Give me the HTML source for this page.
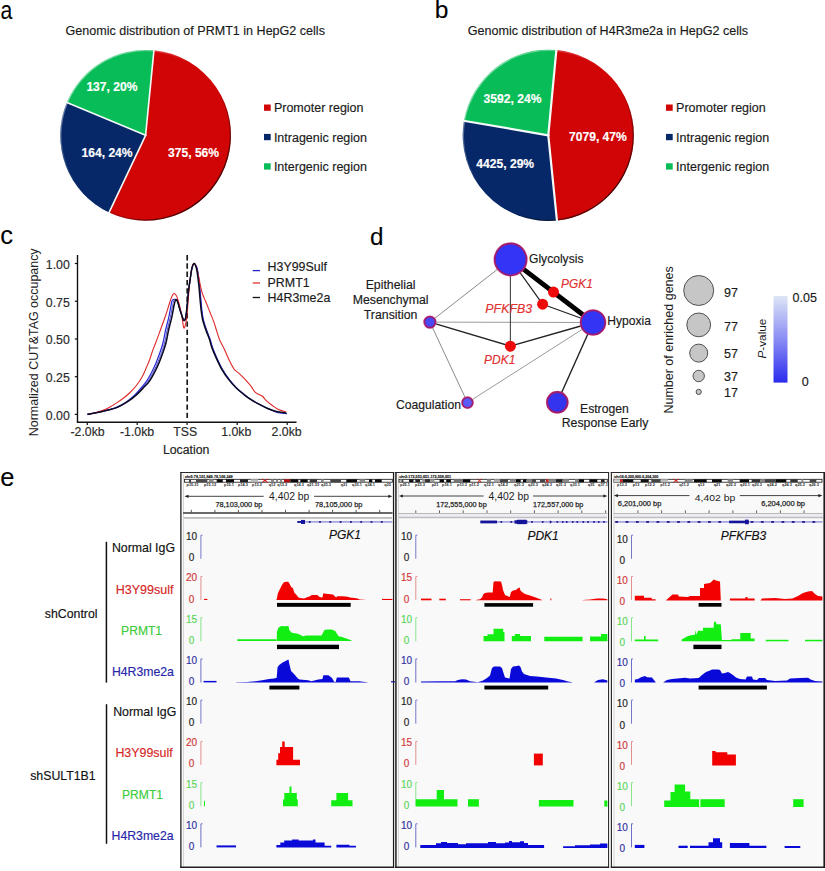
<!DOCTYPE html>
<html><head><meta charset="utf-8"><style>
html,body{margin:0;padding:0;background:#fff;width:825px;height:871px;overflow:hidden;}
svg{display:block;}
</style></head><body>
<svg width="825" height="871" viewBox="0 0 825 871" font-family='"Liberation Sans", sans-serif'>
<rect width="825" height="871" fill="#fff"/>
<text x="0" y="0" font-size="25" fill="#000" transform="translate(0.4,18.5) scale(0.85,1)">a</text>
<text x="434.70" y="18.10" font-size="24.6" fill="#000" text-anchor="start" font-weight="normal" font-style="normal" stroke="#000" stroke-width="0.1" >b</text>
<text x="0.30" y="244.20" font-size="25.5" fill="#000" text-anchor="start" font-weight="normal" font-style="normal" stroke="#000" stroke-width="0.1" >c</text>
<text x="369.90" y="244.50" font-size="24.2" fill="#000" text-anchor="start" font-weight="normal" font-style="normal" stroke="#000" stroke-width="0.1" >d</text>
<text x="0.20" y="486.30" font-size="25.5" fill="#000" text-anchor="start" font-weight="normal" font-style="normal" stroke="#000" stroke-width="0.1" >e</text>
<text x="65.50" y="35.00" font-size="12.55" fill="#1a1a1a" text-anchor="start" font-weight="normal" font-style="normal" stroke="#1a1a1a" stroke-width="0.16" >Genomic distribution of PRMT1 in HepG2 cells</text>
<text x="467.80" y="35.00" font-size="12.55" fill="#1a1a1a" text-anchor="start" font-weight="normal" font-style="normal" stroke="#1a1a1a" stroke-width="0.16" >Genomic distribution of H4R3me2a in HepG2 cells</text>
<defs><linearGradient id="rima" x1="81.54999999999998" y1="71.25" x2="209.65" y2="199.35000000000002" gradientUnits="userSpaceOnUse"><stop offset="0" stop-color="#fff" stop-opacity="0.55"/><stop offset="0.4" stop-color="#fff" stop-opacity="0"/><stop offset="0.6" stop-color="#000" stop-opacity="0"/><stop offset="1" stop-color="#000" stop-opacity="0.75"/></linearGradient></defs>
<path d="M145.6,135.3 L153.93,50.31 A85.4,85.4 0 1 1 109.10,212.51 Z" fill="#d10406"/>
<path d="M145.6,135.3 L109.10,212.51 A85.4,85.4 0 0 1 66.78,102.42 Z" fill="#062868"/>
<path d="M145.6,135.3 L66.78,102.42 A85.4,85.4 0 0 1 153.93,50.31 Z" fill="#08bc58"/>
<circle cx="145.6" cy="135.3" r="84.80000000000001" fill="none" stroke="url(#rima)" stroke-width="1.3"/>
<line x1="145.6" y1="135.3" x2="153.98" y2="49.81" stroke="#f2fbf8" stroke-width="1.6" stroke-linecap="round"/>
<line x1="145.6" y1="135.3" x2="108.88" y2="212.96" stroke="#f2fbf8" stroke-width="1.6" stroke-linecap="round"/>
<line x1="145.6" y1="135.3" x2="66.32" y2="102.23" stroke="#f2fbf8" stroke-width="1.6" stroke-linecap="round"/>
<text x="168.00" y="156.80" font-size="12.1" fill="#fff" text-anchor="start" font-weight="bold" font-style="normal" stroke="#fff" stroke-width="0.16" >375, 56%</text>
<text x="81.50" y="156.80" font-size="12.1" fill="#fff" text-anchor="start" font-weight="bold" font-style="normal" stroke="#fff" stroke-width="0.16" >164, 24%</text>
<text x="86.40" y="91.40" font-size="12.1" fill="#fff" text-anchor="start" font-weight="bold" font-style="normal" stroke="#fff" stroke-width="0.16" >137, 20%</text>
<defs><linearGradient id="rimb" x1="484.09999999999997" y1="71.10000000000002" x2="612.5" y2="199.5" gradientUnits="userSpaceOnUse"><stop offset="0" stop-color="#fff" stop-opacity="0.55"/><stop offset="0.4" stop-color="#fff" stop-opacity="0"/><stop offset="0.6" stop-color="#000" stop-opacity="0"/><stop offset="1" stop-color="#000" stop-opacity="0.75"/></linearGradient></defs>
<path d="M548.3,135.3 L556.36,50.08 A85.6,85.6 0 0 1 556.93,220.46 Z" fill="#d10406"/>
<path d="M548.3,135.3 L556.93,220.46 A85.6,85.6 0 0 1 463.93,120.82 Z" fill="#062868"/>
<path d="M548.3,135.3 L463.93,120.82 A85.6,85.6 0 0 1 556.36,50.08 Z" fill="#08bc58"/>
<circle cx="548.3" cy="135.3" r="85.0" fill="none" stroke="url(#rimb)" stroke-width="1.3"/>
<line x1="548.3" y1="135.3" x2="556.40" y2="49.58" stroke="#f2fbf8" stroke-width="2.2" stroke-linecap="round"/>
<line x1="548.3" y1="135.3" x2="556.98" y2="220.96" stroke="#f2fbf8" stroke-width="2.2" stroke-linecap="round"/>
<line x1="548.3" y1="135.3" x2="463.44" y2="120.73" stroke="#f2fbf8" stroke-width="2.2" stroke-linecap="round"/>
<text x="569.00" y="140.60" font-size="12.1" fill="#fff" text-anchor="start" font-weight="bold" font-style="normal" stroke="#fff" stroke-width="0.16" >7079, 47%</text>
<text x="476.30" y="168.00" font-size="12.1" fill="#fff" text-anchor="start" font-weight="bold" font-style="normal" stroke="#fff" stroke-width="0.16" >4425, 29%</text>
<text x="483.60" y="103.00" font-size="12.1" fill="#fff" text-anchor="start" font-weight="bold" font-style="normal" stroke="#fff" stroke-width="0.16" >3592, 24%</text>
<rect x="264" y="104.5" width="6.7" height="6.3" fill="#d10406"/>
<text x="273.90" y="112.20" font-size="12.5" fill="#1a1a1a" text-anchor="start" font-weight="normal" font-style="normal" stroke="#1a1a1a" stroke-width="0.16" >Promoter region</text>
<rect x="264" y="133.9" width="6.7" height="6.3" fill="#062868"/>
<text x="273.90" y="141.60" font-size="12.5" fill="#1a1a1a" text-anchor="start" font-weight="normal" font-style="normal" stroke="#1a1a1a" stroke-width="0.16" >Intragenic region</text>
<rect x="264" y="163.3" width="6.7" height="6.3" fill="#08bc58"/>
<text x="273.90" y="171.00" font-size="12.5" fill="#1a1a1a" text-anchor="start" font-weight="normal" font-style="normal" stroke="#1a1a1a" stroke-width="0.16" >Intergenic region</text>
<rect x="666" y="104.5" width="6.7" height="6.3" fill="#d10406"/>
<text x="676.10" y="112.20" font-size="12.5" fill="#1a1a1a" text-anchor="start" font-weight="normal" font-style="normal" stroke="#1a1a1a" stroke-width="0.16" >Promoter region</text>
<rect x="666" y="133.9" width="6.7" height="6.3" fill="#062868"/>
<text x="676.10" y="141.60" font-size="12.5" fill="#1a1a1a" text-anchor="start" font-weight="normal" font-style="normal" stroke="#1a1a1a" stroke-width="0.16" >Intragenic region</text>
<rect x="666" y="163.3" width="6.7" height="6.3" fill="#08bc58"/>
<text x="676.10" y="171.00" font-size="12.5" fill="#1a1a1a" text-anchor="start" font-weight="normal" font-style="normal" stroke="#1a1a1a" stroke-width="0.16" >Intergenic region</text>
<line x1="77.5" y1="255" x2="77.5" y2="422.8" stroke="#111" stroke-width="1.4"/>
<line x1="76.9" y1="422.2" x2="296.5" y2="422.2" stroke="#111" stroke-width="1.4"/>
<line x1="74.8" y1="263.5" x2="77.5" y2="263.5" stroke="#111" stroke-width="1.2"/>
<text x="69.80" y="268.90" font-size="12.3" fill="#2a2a2a" text-anchor="end" font-weight="normal" font-style="normal" stroke="#2a2a2a" stroke-width="0.16" >1.00</text>
<line x1="74.8" y1="301.2" x2="77.5" y2="301.2" stroke="#111" stroke-width="1.2"/>
<text x="69.80" y="306.60" font-size="12.3" fill="#2a2a2a" text-anchor="end" font-weight="normal" font-style="normal" stroke="#2a2a2a" stroke-width="0.16" >0.75</text>
<line x1="74.8" y1="339" x2="77.5" y2="339" stroke="#111" stroke-width="1.2"/>
<text x="69.80" y="344.40" font-size="12.3" fill="#2a2a2a" text-anchor="end" font-weight="normal" font-style="normal" stroke="#2a2a2a" stroke-width="0.16" >0.50</text>
<line x1="74.8" y1="376.7" x2="77.5" y2="376.7" stroke="#111" stroke-width="1.2"/>
<text x="69.80" y="382.10" font-size="12.3" fill="#2a2a2a" text-anchor="end" font-weight="normal" font-style="normal" stroke="#2a2a2a" stroke-width="0.16" >0.25</text>
<line x1="74.8" y1="414.4" x2="77.5" y2="414.4" stroke="#111" stroke-width="1.2"/>
<text x="69.80" y="419.80" font-size="12.3" fill="#2a2a2a" text-anchor="end" font-weight="normal" font-style="normal" stroke="#2a2a2a" stroke-width="0.16" >0.00</text>
<line x1="87.3" y1="422.2" x2="87.3" y2="424.9" stroke="#111" stroke-width="1.2"/>
<text x="87.60" y="436.10" font-size="12.3" fill="#2a2a2a" text-anchor="middle" font-weight="normal" font-style="normal" stroke="#2a2a2a" stroke-width="0.16" >-2.0kb</text>
<line x1="137.2" y1="422.2" x2="137.2" y2="424.9" stroke="#111" stroke-width="1.2"/>
<text x="137.10" y="436.10" font-size="12.3" fill="#2a2a2a" text-anchor="middle" font-weight="normal" font-style="normal" stroke="#2a2a2a" stroke-width="0.16" >-1.0kb</text>
<line x1="187.1" y1="422.2" x2="187.1" y2="424.9" stroke="#111" stroke-width="1.2"/>
<text x="185.20" y="436.10" font-size="12.3" fill="#2a2a2a" text-anchor="middle" font-weight="normal" font-style="normal" stroke="#2a2a2a" stroke-width="0.16" >TSS</text>
<line x1="237.2" y1="422.2" x2="237.2" y2="424.9" stroke="#111" stroke-width="1.2"/>
<text x="236.20" y="436.10" font-size="12.3" fill="#2a2a2a" text-anchor="middle" font-weight="normal" font-style="normal" stroke="#2a2a2a" stroke-width="0.16" >1.0kb</text>
<line x1="287.2" y1="422.2" x2="287.2" y2="424.9" stroke="#111" stroke-width="1.2"/>
<text x="286.60" y="436.10" font-size="12.3" fill="#2a2a2a" text-anchor="middle" font-weight="normal" font-style="normal" stroke="#2a2a2a" stroke-width="0.16" >2.0kb</text>
<text x="186.20" y="454.00" font-size="12.3" fill="#222" text-anchor="middle" font-weight="normal" font-style="normal" stroke="#222" stroke-width="0.16" >Location</text>
<text x="0" y="0" font-size="12.45" fill="#222" text-anchor="middle" transform="translate(38.2,342.3) rotate(-90)">Normalized CUT&amp;TAG occupancy</text>
<line x1="187.2" y1="255" x2="187.2" y2="421" stroke="#1a1a1a" stroke-width="1.7" stroke-dasharray="5.4,2.9"/>
<path d="M87.00,414.40 C89.07,414.00 96.12,412.70 99.40,412.00 C102.68,411.30 104.28,410.80 106.70,410.20 C109.12,409.60 111.48,409.25 113.90,408.40 C116.32,407.55 118.84,406.38 121.20,405.10 C123.56,403.82 125.82,402.40 128.09,400.70 C130.36,399.00 132.62,397.08 134.83,394.90 C137.04,392.72 139.37,389.90 141.33,387.60 C143.29,385.30 144.78,383.88 146.61,381.10 C148.43,378.32 150.63,374.17 152.30,370.90 C153.97,367.63 155.18,364.98 156.60,361.50 C158.02,358.02 159.70,353.25 160.80,350.00 C161.90,346.75 162.40,345.33 163.20,342.00 C164.00,338.67 164.68,334.07 165.60,330.00 C166.52,325.93 167.80,321.68 168.70,317.60 C169.60,313.52 170.38,308.40 171.00,305.50 C171.62,302.60 171.47,301.15 172.40,300.20 C173.33,299.25 175.63,299.25 176.60,299.80 C177.57,300.35 177.70,302.05 178.20,303.50 C178.70,304.95 179.00,306.53 179.60,308.50 C180.20,310.47 181.10,313.32 181.80,315.30 C182.50,317.28 183.20,319.85 183.80,320.40 C184.40,320.95 184.93,320.17 185.40,318.60 C185.87,317.03 186.23,313.93 186.60,311.00 C186.97,308.07 187.27,304.50 187.60,301.00 C187.93,297.50 188.17,293.67 188.60,290.00 C189.03,286.33 189.65,282.60 190.20,279.00 C190.75,275.40 191.25,270.97 191.90,268.40 C192.55,265.83 193.25,263.70 194.10,263.60 C194.95,263.50 196.32,266.08 197.00,267.80 C197.68,269.52 197.75,270.82 198.20,273.90 C198.65,276.98 199.27,282.17 199.70,286.30 C200.13,290.43 200.43,294.70 200.80,298.70 C201.17,302.70 201.48,306.87 201.90,310.30 C202.32,313.73 202.73,316.63 203.30,319.30 C203.87,321.97 204.55,323.97 205.30,326.30 C206.05,328.63 206.97,331.05 207.80,333.30 C208.63,335.55 209.47,337.30 210.30,339.80 C211.13,342.30 211.65,345.15 212.80,348.30 C213.95,351.45 215.57,355.15 217.20,358.70 C218.83,362.25 220.60,366.15 222.60,369.60 C224.60,373.05 226.83,376.32 229.20,379.40 C231.57,382.48 234.27,385.57 236.80,388.10 C239.33,390.63 242.03,392.70 244.40,394.60 C246.77,396.50 248.45,397.85 251.00,399.50 C253.55,401.15 256.80,402.95 259.70,404.50 C262.60,406.05 265.50,407.50 268.40,408.80 C271.30,410.10 274.00,411.48 277.10,412.30 C280.20,413.12 285.35,413.47 287.00,413.70" fill="none" stroke="#2828d8" stroke-width="1.2"/>
<path d="M87.40,414.40 C89.47,414.00 96.52,412.70 99.80,412.00 C103.08,411.30 104.68,410.80 107.10,410.20 C109.52,409.60 111.88,409.25 114.30,408.40 C116.72,407.55 119.20,406.38 121.60,405.10 C124.00,403.82 126.34,402.40 128.69,400.70 C131.05,399.00 133.40,397.08 135.72,394.90 C138.03,392.72 140.49,389.90 142.56,387.60 C144.64,385.30 146.26,383.88 148.15,381.10 C150.04,378.32 152.23,374.17 153.90,370.90 C155.57,367.63 156.78,364.98 158.20,361.50 C159.62,358.02 161.30,353.25 162.40,350.00 C163.50,346.75 164.00,345.33 164.80,342.00 C165.60,338.67 166.28,334.07 167.20,330.00 C168.12,325.93 169.40,321.68 170.30,317.60 C171.20,313.52 171.98,308.40 172.60,305.50 C173.22,302.60 173.32,301.15 174.00,300.20 C174.68,299.25 175.98,299.25 176.70,299.80 C177.42,300.35 177.80,302.05 178.30,303.50 C178.80,304.95 179.10,306.53 179.70,308.50 C180.30,310.47 181.20,313.32 181.90,315.30 C182.60,317.28 183.30,319.85 183.90,320.40 C184.50,320.95 185.03,320.17 185.50,318.60 C185.97,317.03 186.33,313.93 186.70,311.00 C187.07,308.07 187.37,304.50 187.70,301.00 C188.03,297.50 188.27,293.67 188.70,290.00 C189.13,286.33 189.75,282.60 190.30,279.00 C190.85,275.40 191.35,270.97 192.00,268.40 C192.65,265.83 193.42,263.73 194.20,263.60 C194.98,263.48 196.08,265.96 196.70,267.65 C197.32,269.34 197.45,270.67 197.90,273.75 C198.35,276.83 198.97,282.02 199.40,286.15 C199.83,290.28 200.13,294.55 200.50,298.55 C200.87,302.55 201.18,306.72 201.60,310.15 C202.02,313.58 202.43,316.48 203.00,319.15 C203.57,321.82 204.25,323.82 205.00,326.15 C205.75,328.48 206.67,330.90 207.50,333.15 C208.33,335.40 209.17,337.15 210.00,339.65 C210.83,342.15 211.35,345.00 212.50,348.15 C213.65,351.30 215.27,355.00 216.90,358.55 C218.53,362.10 220.30,366.00 222.30,369.45 C224.30,372.90 226.53,376.17 228.90,379.25 C231.27,382.33 233.97,385.42 236.50,387.95 C239.03,390.48 241.73,392.55 244.10,394.45 C246.47,396.35 248.15,397.70 250.70,399.35 C253.25,401.00 256.50,402.80 259.40,404.35 C262.30,405.90 265.20,407.39 268.10,408.65 C271.00,409.91 273.70,411.12 276.80,411.90 C279.90,412.67 285.05,413.07 286.70,413.30" fill="none" stroke="#3a3ac8" stroke-width="0.9"/>
<path d="M87.60,414.40 C88.67,414.17 91.93,413.52 94.00,413.00 C96.07,412.48 98.15,411.88 100.00,411.30 C101.85,410.72 103.52,410.17 105.10,409.50 C106.68,408.83 107.57,408.40 109.50,407.30 C111.43,406.20 114.28,404.48 116.70,402.90 C119.12,401.32 121.70,399.62 124.00,397.80 C126.30,395.98 128.43,394.05 130.50,392.00 C132.57,389.95 134.45,388.05 136.40,385.50 C138.35,382.95 140.52,379.73 142.20,376.70 C143.88,373.67 145.28,370.08 146.50,367.30 C147.72,364.52 148.40,362.98 149.50,360.00 C150.60,357.02 152.00,352.43 153.10,349.40 C154.20,346.37 154.88,345.03 156.10,341.80 C157.32,338.57 158.80,334.42 160.40,330.00 C162.00,325.58 164.15,319.88 165.70,315.30 C167.25,310.72 168.63,305.70 169.70,302.50 C170.77,299.30 171.37,297.60 172.10,296.10 C172.83,294.60 173.43,293.63 174.10,293.50 C174.77,293.37 175.48,294.33 176.10,295.30 C176.72,296.27 177.12,297.17 177.80,299.30 C178.48,301.43 179.47,304.88 180.20,308.10 C180.93,311.32 181.60,315.32 182.20,318.60 C182.80,321.88 183.30,326.65 183.80,327.80 C184.30,328.95 184.73,327.05 185.20,325.50 C185.67,323.95 186.17,321.92 186.60,318.50 C187.03,315.08 187.37,310.08 187.80,305.00 C188.23,299.92 188.62,293.75 189.20,288.00 C189.78,282.25 190.57,274.57 191.30,270.50 C192.03,266.43 192.85,264.43 193.60,263.60 C194.35,262.77 195.08,263.83 195.80,265.50 C196.52,267.17 197.12,270.18 197.90,273.60 C198.68,277.02 199.72,282.55 200.50,286.00 C201.28,289.45 201.73,291.72 202.60,294.30 C203.47,296.88 204.50,298.58 205.70,301.50 C206.90,304.42 208.43,308.37 209.80,311.80 C211.17,315.23 212.80,319.07 213.90,322.10 C215.00,325.13 215.45,327.05 216.40,330.00 C217.35,332.95 218.33,336.72 219.60,339.80 C220.87,342.88 222.53,345.40 224.00,348.50 C225.47,351.60 226.77,355.03 228.40,358.40 C230.03,361.77 231.98,366.17 233.80,368.70 C235.62,371.23 237.30,371.68 239.30,373.60 C241.30,375.52 243.80,378.02 245.80,380.20 C247.80,382.38 249.67,384.62 251.30,386.70 C252.93,388.78 253.78,391.15 255.60,392.70 C257.42,394.25 260.57,394.82 262.20,396.00 C263.83,397.18 263.77,398.27 265.40,399.80 C267.03,401.33 269.82,403.57 272.00,405.20 C274.18,406.83 276.13,408.50 278.50,409.60 C280.87,410.70 284.92,411.43 286.20,411.80" fill="none" stroke="#e02828" stroke-width="1.1"/>
<path d="M87.60,414.40 C89.67,414.00 96.72,412.70 100.00,412.00 C103.28,411.30 104.88,410.80 107.30,410.20 C109.72,409.60 112.08,409.25 114.50,408.40 C116.92,407.55 119.37,406.38 121.80,405.10 C124.23,403.82 126.67,402.40 129.10,400.70 C131.53,399.00 133.98,397.08 136.40,394.90 C138.82,392.72 141.42,389.90 143.60,387.60 C145.78,385.30 147.55,383.88 149.50,381.10 C151.45,378.32 153.62,374.17 155.30,370.90 C156.98,367.63 158.18,364.98 159.60,361.50 C161.02,358.02 162.70,353.25 163.80,350.00 C164.90,346.75 165.40,345.33 166.20,342.00 C167.00,338.67 167.68,334.07 168.60,330.00 C169.52,325.93 170.80,321.68 171.70,317.60 C172.60,313.52 173.38,308.40 174.00,305.50 C174.62,302.60 174.97,301.15 175.40,300.20 C175.83,299.25 176.13,299.25 176.60,299.80 C177.07,300.35 177.70,302.05 178.20,303.50 C178.70,304.95 179.00,306.53 179.60,308.50 C180.20,310.47 181.10,313.32 181.80,315.30 C182.50,317.28 183.20,319.85 183.80,320.40 C184.40,320.95 184.93,320.17 185.40,318.60 C185.87,317.03 186.23,313.93 186.60,311.00 C186.97,308.07 187.27,304.50 187.60,301.00 C187.93,297.50 188.17,293.67 188.60,290.00 C189.03,286.33 189.65,282.60 190.20,279.00 C190.75,275.40 191.25,270.97 191.90,268.40 C192.55,265.83 193.38,263.75 194.10,263.60 C194.82,263.45 195.65,265.83 196.20,267.50 C196.75,269.17 196.95,270.52 197.40,273.60 C197.85,276.68 198.47,281.87 198.90,286.00 C199.33,290.13 199.63,294.40 200.00,298.40 C200.37,302.40 200.68,306.57 201.10,310.00 C201.52,313.43 201.93,316.33 202.50,319.00 C203.07,321.67 203.75,323.67 204.50,326.00 C205.25,328.33 206.17,330.75 207.00,333.00 C207.83,335.25 208.67,337.00 209.50,339.50 C210.33,342.00 210.85,344.85 212.00,348.00 C213.15,351.15 214.77,354.85 216.40,358.40 C218.03,361.95 219.80,365.85 221.80,369.30 C223.80,372.75 226.03,376.02 228.40,379.10 C230.77,382.18 233.47,385.27 236.00,387.80 C238.53,390.33 241.23,392.40 243.60,394.30 C245.97,396.20 247.65,397.55 250.20,399.20 C252.75,400.85 256.00,402.65 258.90,404.20 C261.80,405.75 264.70,407.28 267.60,408.50 C270.50,409.72 273.20,410.77 276.30,411.50 C279.40,412.23 284.55,412.67 286.20,412.90" fill="none" stroke="#0a0a20" stroke-width="1.5"/>
<line x1="252.7" y1="270.6" x2="260" y2="270.6" stroke="#2323c8" stroke-width="1.3"/>
<text x="267.60" y="270.60" font-size="12.4" fill="#1a1a1a" text-anchor="start" font-weight="normal" font-style="normal" stroke="#1a1a1a" stroke-width="0.16" >H3Y99Sulf</text>
<line x1="252.7" y1="283" x2="260" y2="283" stroke="#e23030" stroke-width="1.3"/>
<text x="267.60" y="287.30" font-size="12.4" fill="#1a1a1a" text-anchor="start" font-weight="normal" font-style="normal" stroke="#1a1a1a" stroke-width="0.16" >PRMT1</text>
<line x1="252.7" y1="297.5" x2="260" y2="297.5" stroke="#111" stroke-width="1.3"/>
<text x="267.60" y="302.40" font-size="12.4" fill="#1a1a1a" text-anchor="start" font-weight="normal" font-style="normal" stroke="#1a1a1a" stroke-width="0.16" >H4R3me2a</text>
<line x1="510.4" y1="259.2" x2="429.9" y2="322.1" stroke="#8a8a8a" stroke-width="1.0"/>
<line x1="429.9" y1="322.1" x2="593" y2="322.5" stroke="#9a9a9a" stroke-width="1.0"/>
<line x1="429.9" y1="322.1" x2="467.5" y2="402.6" stroke="#8a8a8a" stroke-width="1.0"/>
<line x1="593" y1="322.5" x2="467.5" y2="402.6" stroke="#9a9a9a" stroke-width="1.0"/>
<line x1="510.4" y1="259.2" x2="510.4" y2="346.2" stroke="#444" stroke-width="1.1"/>
<line x1="429.9" y1="322.1" x2="510.4" y2="346.2" stroke="#222" stroke-width="1.4"/>
<line x1="510.4" y1="346.2" x2="593" y2="322.5" stroke="#222" stroke-width="1.4"/>
<line x1="510.4" y1="259.2" x2="542.6" y2="304.2" stroke="#222" stroke-width="1.2"/>
<line x1="542.6" y1="304.2" x2="593" y2="322.5" stroke="#222" stroke-width="1.2"/>
<line x1="593" y1="322.5" x2="557.3" y2="402.3" stroke="#222" stroke-width="1.4"/>
<line x1="510.4" y1="259.2" x2="593" y2="322.5" stroke="#000" stroke-width="4.8"/>
<circle cx="510.6" cy="259.4" r="16.80" fill="none" stroke="#f070a0" stroke-width="0.8" stroke-opacity="0.6"/>
<circle cx="510.6" cy="259.4" r="15.90" fill="#3434f6" stroke="#a01c6e" stroke-width="1.8"/>
<circle cx="593" cy="322.5" r="13.10" fill="none" stroke="#f070a0" stroke-width="0.8" stroke-opacity="0.6"/>
<circle cx="593" cy="322.5" r="12.20" fill="#3434f4" stroke="#a01c6e" stroke-width="1.8"/>
<circle cx="429.9" cy="322.1" r="6.40" fill="none" stroke="#f070a0" stroke-width="0.8" stroke-opacity="0.6"/>
<circle cx="429.9" cy="322.1" r="5.55" fill="#4848f4" stroke="#a01c6e" stroke-width="1.7"/>
<circle cx="467.5" cy="402.6" r="6.10" fill="none" stroke="#f070a0" stroke-width="0.8" stroke-opacity="0.6"/>
<circle cx="467.5" cy="402.6" r="5.25" fill="#5a5af6" stroke="#a01c6e" stroke-width="1.7"/>
<circle cx="557.3" cy="402.3" r="11.20" fill="none" stroke="#f070a0" stroke-width="0.8" stroke-opacity="0.6"/>
<circle cx="557.3" cy="402.3" r="10.25" fill="#3434ee" stroke="#a01c6e" stroke-width="1.9"/>
<circle cx="553.5" cy="292.1" r="5.5" fill="#ee0a0a"/>
<circle cx="542.6" cy="304.2" r="5.5" fill="#ee0a0a"/>
<circle cx="510.4" cy="346.2" r="5.5" fill="#ee0a0a"/>
<text x="529.00" y="262.60" font-size="12.1" fill="#1a1a1a" text-anchor="start" font-weight="normal" font-style="normal" stroke="#1a1a1a" stroke-width="0.16" >Glycolysis</text>
<text x="607.30" y="324.50" font-size="12.1" fill="#1a1a1a" text-anchor="start" font-weight="normal" font-style="normal" stroke="#1a1a1a" stroke-width="0.16" >Hypoxia</text>
<text x="390.60" y="289.10" font-size="12.3" fill="#1a1a1a" text-anchor="middle" font-weight="normal" font-style="normal" stroke="#1a1a1a" stroke-width="0.16" >Epithelial</text>
<text x="390.60" y="304.40" font-size="12.3" fill="#1a1a1a" text-anchor="middle" font-weight="normal" font-style="normal" stroke="#1a1a1a" stroke-width="0.16" >Mesenchymal</text>
<text x="390.60" y="319.20" font-size="12.3" fill="#1a1a1a" text-anchor="middle" font-weight="normal" font-style="normal" stroke="#1a1a1a" stroke-width="0.16" >Transition</text>
<text x="461.00" y="409.10" font-size="12.2" fill="#1a1a1a" text-anchor="end" font-weight="normal" font-style="normal" stroke="#1a1a1a" stroke-width="0.16" >Coagulation</text>
<text x="604.40" y="412.50" font-size="12.2" fill="#1a1a1a" text-anchor="middle" font-weight="normal" font-style="normal" stroke="#1a1a1a" stroke-width="0.16" >Estrogen</text>
<text x="605.10" y="427.20" font-size="12.3" fill="#1a1a1a" text-anchor="middle" font-weight="normal" font-style="normal" stroke="#1a1a1a" stroke-width="0.16" >Response Early</text>
<text x="561.10" y="288.00" font-size="11.9" fill="#e03030" text-anchor="start" font-weight="normal" font-style="italic" stroke="#e03030" stroke-width="0.16" >PGK1</text>
<text x="485.30" y="312.80" font-size="12.4" fill="#e03030" text-anchor="start" font-weight="normal" font-style="italic" stroke="#e03030" stroke-width="0.16" >PFKFB3</text>
<text x="484.00" y="364.10" font-size="12.0" fill="#e03030" text-anchor="start" font-weight="normal" font-style="italic" stroke="#e03030" stroke-width="0.16" >PDK1</text>
<text x="0" y="0" font-size="12.5" fill="#1a1a1a" text-anchor="middle" transform="translate(673.2,339.9) rotate(-90)">Number of enriched genes</text>
<circle cx="698.7" cy="290.5" r="15.0" fill="#c6c6c6" stroke="#505050" stroke-width="1"/>
<text x="724.00" y="296.70" font-size="12.5" fill="#1a1a1a" text-anchor="start" font-weight="normal" font-style="normal" stroke="#1a1a1a" stroke-width="0.16" >97</text>
<circle cx="698.7" cy="324.9" r="11.9" fill="#c6c6c6" stroke="#505050" stroke-width="1"/>
<text x="724.00" y="330.70" font-size="12.5" fill="#1a1a1a" text-anchor="start" font-weight="normal" font-style="normal" stroke="#1a1a1a" stroke-width="0.16" >77</text>
<circle cx="698.7" cy="353.1" r="9.0" fill="#c6c6c6" stroke="#505050" stroke-width="1"/>
<text x="724.00" y="357.90" font-size="12.5" fill="#1a1a1a" text-anchor="start" font-weight="normal" font-style="normal" stroke="#1a1a1a" stroke-width="0.16" >57</text>
<circle cx="698.7" cy="376" r="5.7" fill="#c6c6c6" stroke="#505050" stroke-width="1"/>
<text x="724.00" y="380.50" font-size="12.5" fill="#1a1a1a" text-anchor="start" font-weight="normal" font-style="normal" stroke="#1a1a1a" stroke-width="0.16" >37</text>
<circle cx="698.7" cy="391.9" r="2.6" fill="#c6c6c6" stroke="#505050" stroke-width="1"/>
<text x="724.00" y="397.00" font-size="12.5" fill="#1a1a1a" text-anchor="start" font-weight="normal" font-style="normal" stroke="#1a1a1a" stroke-width="0.16" >17</text>
<defs><linearGradient id="cbar" x1="0" y1="0" x2="0" y2="1"><stop offset="0" stop-color="#dde6f6"/><stop offset="0.5" stop-color="#8a8cf4"/><stop offset="1" stop-color="#2b2bee"/></linearGradient></defs>
<rect x="773.5" y="296" width="14" height="86.6" fill="url(#cbar)"/>
<text x="792.60" y="302.20" font-size="12.5" fill="#1a1a1a" text-anchor="start" font-weight="normal" font-style="normal" stroke="#1a1a1a" stroke-width="0.16" >0.05</text>
<text x="801.70" y="385.70" font-size="12.5" fill="#1a1a1a" text-anchor="start" font-weight="normal" font-style="normal" stroke="#1a1a1a" stroke-width="0.16" >0</text>
<text x="0" y="0" font-size="11.8" fill="#1a1a1a" text-anchor="middle" transform="translate(766,338.6) rotate(-90)"><tspan font-style="italic">P</tspan>-value</text>
<rect x="180.2" y="472.3" width="213.8" height="395.5" fill="#fff"/>
<rect x="183.2" y="518.5" width="208.8" height="347.8" fill="#f9f9f9"/>
<line x1="183.2" y1="517.9" x2="392.0" y2="517.9" stroke="#bbbbbb" stroke-width="1.8"/>
<line x1="183.39999999999998" y1="474.3" x2="183.39999999999998" y2="866.3" stroke="#d0d0d0" stroke-width="1"/>
<rect x="395.1" y="472.3" width="214.0" height="395.5" fill="#fff"/>
<rect x="398.1" y="518.5" width="209.0" height="347.8" fill="#f9f9f9"/>
<rect x="398.1" y="487.5" width="209.0" height="25.5" fill="#f9f9f9"/>
<rect x="398.1" y="514.2" width="209.0" height="2.5" fill="#ececf0"/>
<line x1="398.1" y1="517.5" x2="607.1" y2="517.5" stroke="#bdbdc5" stroke-width="1.4"/>
<line x1="398.3" y1="474.3" x2="398.3" y2="866.3" stroke="#d0d0d0" stroke-width="1"/>
<rect x="610.8" y="472.3" width="214.2" height="395.5" fill="#fff"/>
<rect x="613.8" y="518.5" width="209.2" height="347.8" fill="#f9f9f9"/>
<rect x="613.8" y="487.5" width="209.2" height="25.5" fill="#f9f9f9"/>
<rect x="613.8" y="514.2" width="209.2" height="2.5" fill="#ececf0"/>
<line x1="613.8" y1="517.5" x2="823.0" y2="517.5" stroke="#bdbdc5" stroke-width="1.4"/>
<line x1="614.0" y1="474.3" x2="614.0" y2="866.3" stroke="#d0d0d0" stroke-width="1"/>
<rect x="184.5" y="479.3" width="207.8" height="2.9" fill="#fff" stroke="#111" stroke-width="0.8"/>
<rect x="189" y="479.3" width="2.0" height="2.9" fill="#444"/>
<rect x="196" y="479.3" width="11.3" height="2.9" fill="#4a4a4a"/>
<rect x="209" y="479.3" width="4.5" height="2.9" fill="#888"/>
<rect x="216.7" y="479.3" width="6.0" height="2.9" fill="#0a0a0a"/>
<rect x="226" y="479.3" width="8.0" height="2.9" fill="#0a0a0a"/>
<rect x="240" y="479.3" width="8.0" height="2.9" fill="#222"/>
<rect x="250.7" y="479.3" width="7.3" height="2.9" fill="#bbb"/>
<rect x="271" y="479.3" width="3.0" height="2.9" fill="#888"/>
<rect x="276" y="479.3" width="2.0" height="2.9" fill="#888"/>
<rect x="280" y="479.3" width="2.0" height="2.9" fill="#888"/>
<rect x="284" y="479.3" width="6.3" height="2.9" fill="#b01010"/>
<rect x="290.3" y="479.3" width="8.0" height="2.9" fill="#0a0a0a"/>
<rect x="300.3" y="479.3" width="7.4" height="2.9" fill="#0a0a0a"/>
<rect x="309.7" y="479.3" width="7.3" height="2.9" fill="#333"/>
<rect x="321" y="479.3" width="2.7" height="2.9" fill="#888"/>
<rect x="330.3" y="479.3" width="10.7" height="2.9" fill="#444"/>
<rect x="346.3" y="479.3" width="10.7" height="2.9" fill="#0a0a0a"/>
<rect x="359.7" y="479.3" width="5.3" height="2.9" fill="#888"/>
<rect x="369" y="479.3" width="3.3" height="2.9" fill="#0a0a0a"/>
<rect x="375" y="479.3" width="6.7" height="2.9" fill="#0a0a0a"/>
<path d="M262,479.0 L265.0,480.75 L262,482.5 M268,479.0 L265.0,480.75 L268,482.5" stroke="#d01010" stroke-width="0.9" fill="none"/>
<rect x="399" y="479.3" width="208.29999999999995" height="2.9" fill="#fff" stroke="#111" stroke-width="0.8"/>
<rect x="400.4" y="479.3" width="1.4" height="2.9" fill="#999"/>
<rect x="401.8" y="479.3" width="1.5" height="2.9" fill="#444"/>
<rect x="409.1" y="479.3" width="4.4" height="2.9" fill="#111"/>
<rect x="415.3" y="479.3" width="4.7" height="2.9" fill="#222"/>
<rect x="422.2" y="479.3" width="2.9" height="2.9" fill="#999"/>
<rect x="425.1" y="479.3" width="5.1" height="2.9" fill="#333"/>
<rect x="430.2" y="479.3" width="4.3" height="2.9" fill="#999"/>
<rect x="439.6" y="479.3" width="4.4" height="2.9" fill="#0a0a0a"/>
<rect x="446.2" y="479.3" width="4.7" height="2.9" fill="#0a0a0a"/>
<rect x="453.7" y="479.3" width="9.3" height="2.9" fill="#777"/>
<rect x="463" y="479.3" width="7.3" height="2.9" fill="#0a0a0a"/>
<rect x="487" y="479.3" width="4.0" height="2.9" fill="#888"/>
<rect x="494" y="479.3" width="6.0" height="2.9" fill="#aaa"/>
<rect x="500" y="479.3" width="8.0" height="2.9" fill="#444"/>
<rect x="510" y="479.3" width="6.0" height="2.9" fill="#888"/>
<rect x="516" y="479.3" width="4.7" height="2.9" fill="#0a0a0a"/>
<rect x="523" y="479.3" width="3.5" height="2.9" fill="#0a0a0a"/>
<rect x="527" y="479.3" width="5.0" height="2.9" fill="#888"/>
<rect x="532" y="479.3" width="4.0" height="2.9" fill="#444"/>
<rect x="540" y="479.3" width="5.3" height="2.9" fill="#444"/>
<rect x="546" y="479.3" width="2.7" height="2.9" fill="#d02020"/>
<rect x="548.7" y="479.3" width="7.3" height="2.9" fill="#888"/>
<rect x="556" y="479.3" width="6.7" height="2.9" fill="#222"/>
<rect x="562.7" y="479.3" width="6.3" height="2.9" fill="#888"/>
<rect x="575" y="479.3" width="3.7" height="2.9" fill="#888"/>
<rect x="578.7" y="479.3" width="5.3" height="2.9" fill="#0a0a0a"/>
<rect x="589.3" y="479.3" width="8.0" height="2.9" fill="#0a0a0a"/>
<rect x="601" y="479.3" width="3.6" height="2.9" fill="#222"/>
<path d="M477.5,479.0 L479.5,480.75 L477.5,482.5 M481.5,479.0 L479.5,480.75 L481.5,482.5" stroke="#d01010" stroke-width="0.9" fill="none"/>
<rect x="614" y="479.3" width="208" height="2.9" fill="#fff" stroke="#111" stroke-width="0.8"/>
<rect x="614" y="479.3" width="6.0" height="2.9" fill="#ccc"/>
<rect x="620" y="479.3" width="2.7" height="2.9" fill="#d02020"/>
<rect x="622.7" y="479.3" width="10.6" height="2.9" fill="#111"/>
<rect x="640.7" y="479.3" width="8.0" height="2.9" fill="#111"/>
<rect x="651.3" y="479.3" width="9.4" height="2.9" fill="#444"/>
<rect x="660.7" y="479.3" width="7.3" height="2.9" fill="#bbb"/>
<rect x="684.7" y="479.3" width="8.0" height="2.9" fill="#888"/>
<rect x="694" y="479.3" width="12.7" height="2.9" fill="#0a0a0a"/>
<rect x="712" y="479.3" width="9.7" height="2.9" fill="#0a0a0a"/>
<rect x="727.7" y="479.3" width="5.3" height="2.9" fill="#888"/>
<rect x="739.7" y="479.3" width="9.3" height="2.9" fill="#0a0a0a"/>
<rect x="751.7" y="479.3" width="8.6" height="2.9" fill="#333"/>
<rect x="760.3" y="479.3" width="4.7" height="2.9" fill="#888"/>
<rect x="765" y="479.3" width="10.7" height="2.9" fill="#444"/>
<rect x="775.7" y="479.3" width="10.6" height="2.9" fill="#0a0a0a"/>
<rect x="790.3" y="479.3" width="7.4" height="2.9" fill="#333"/>
<rect x="801.3" y="479.3" width="2.0" height="2.9" fill="#888"/>
<rect x="809.7" y="479.3" width="6.6" height="2.9" fill="#444"/>
<path d="M673.3,479.0 L676.0,480.75 L673.3,482.5 M678.7,479.0 L676.0,480.75 L678.7,482.5" stroke="#d01010" stroke-width="0.9" fill="none"/>
<text x="184.7" y="477.7" font-size="4.3" font-weight="bold" fill="#111" stroke="#111" stroke-width="0.15" textLength="48" lengthAdjust="spacingAndGlyphs">chr5:78,101,849-78,106,249</text>
<text x="399.2" y="477.7" font-size="4.3" font-weight="bold" fill="#111" stroke="#111" stroke-width="0.15" textLength="52" lengthAdjust="spacingAndGlyphs">chr2:172,553,651-172,558,051</text>
<text x="614.2" y="477.7" font-size="4.3" font-weight="bold" fill="#111" stroke="#111" stroke-width="0.15" textLength="44" lengthAdjust="spacingAndGlyphs">chr16:6,200,900-6,204,300</text>
<text x="192.6" y="486.3" font-size="3.9" fill="#1a1a1a" text-anchor="middle" font-weight="bold">p15.31</text>
<text x="210" y="486.3" font-size="3.9" fill="#1a1a1a" text-anchor="middle" font-weight="bold">p15.12</text>
<text x="229" y="486.3" font-size="3.9" fill="#1a1a1a" text-anchor="middle" font-weight="bold">p15.1</text>
<text x="243" y="486.3" font-size="3.9" fill="#1a1a1a" text-anchor="middle" font-weight="bold">p14.3</text>
<text x="257" y="486.3" font-size="3.9" fill="#1a1a1a" text-anchor="middle" font-weight="bold">p13.2</text>
<text x="272" y="486.3" font-size="3.9" fill="#1a1a1a" text-anchor="middle" font-weight="bold">q12</text>
<text x="282.3" y="486.3" font-size="3.9" fill="#1a1a1a" text-anchor="middle" font-weight="bold">q13.3</text>
<text x="299" y="486.3" font-size="3.9" fill="#1a1a1a" text-anchor="middle" font-weight="bold">q14.3</text>
<text x="313" y="486.3" font-size="3.9" fill="#1a1a1a" text-anchor="middle" font-weight="bold">q21.33</text>
<text x="326" y="486.3" font-size="3.9" fill="#1a1a1a" text-anchor="middle" font-weight="bold">q23.3</text>
<text x="344" y="486.3" font-size="3.9" fill="#1a1a1a" text-anchor="middle" font-weight="bold">q31</text>
<text x="357" y="486.3" font-size="3.9" fill="#1a1a1a" text-anchor="middle" font-weight="bold">q33.1</text>
<text x="370" y="486.3" font-size="3.9" fill="#1a1a1a" text-anchor="middle" font-weight="bold">q34.1</text>
<text x="387.6" y="486.3" font-size="3.9" fill="#1a1a1a" text-anchor="middle" font-weight="bold">q35</text>
<text x="405" y="486.3" font-size="3.9" fill="#1a1a1a" text-anchor="middle" font-weight="bold">p25.1</text>
<text x="420" y="486.3" font-size="3.9" fill="#1a1a1a" text-anchor="middle" font-weight="bold">p23.3</text>
<text x="435" y="486.3" font-size="3.9" fill="#1a1a1a" text-anchor="middle" font-weight="bold">p21</text>
<text x="447" y="486.3" font-size="3.9" fill="#1a1a1a" text-anchor="middle" font-weight="bold">p16.1</text>
<text x="462" y="486.3" font-size="3.9" fill="#1a1a1a" text-anchor="middle" font-weight="bold">p13.3</text>
<text x="474" y="486.3" font-size="3.9" fill="#1a1a1a" text-anchor="middle" font-weight="bold">p11.2</text>
<text x="489" y="486.3" font-size="3.9" fill="#1a1a1a" text-anchor="middle" font-weight="bold">q12.1</text>
<text x="503" y="486.3" font-size="3.9" fill="#1a1a1a" text-anchor="middle" font-weight="bold">q14.2</text>
<text x="519" y="486.3" font-size="3.9" fill="#1a1a1a" text-anchor="middle" font-weight="bold">q21.3</text>
<text x="533" y="486.3" font-size="3.9" fill="#1a1a1a" text-anchor="middle" font-weight="bold">q23.3</text>
<text x="547" y="486.3" font-size="3.9" fill="#1a1a1a" text-anchor="middle" font-weight="bold">q24.3</text>
<text x="561" y="486.3" font-size="3.9" fill="#1a1a1a" text-anchor="middle" font-weight="bold">q31.3</text>
<text x="575" y="486.3" font-size="3.9" fill="#1a1a1a" text-anchor="middle" font-weight="bold">q33.1</text>
<text x="591" y="486.3" font-size="3.9" fill="#1a1a1a" text-anchor="middle" font-weight="bold">q35</text>
<text x="603" y="486.3" font-size="3.9" fill="#1a1a1a" text-anchor="middle" font-weight="bold">q37.1</text>
<text x="622" y="486.3" font-size="3.9" fill="#1a1a1a" text-anchor="middle" font-weight="bold">p13.3</text>
<text x="636" y="486.3" font-size="3.9" fill="#1a1a1a" text-anchor="middle" font-weight="bold">p13</text>
<text x="650" y="486.3" font-size="3.9" fill="#1a1a1a" text-anchor="middle" font-weight="bold">p12.2</text>
<text x="665" y="486.3" font-size="3.9" fill="#1a1a1a" text-anchor="middle" font-weight="bold">p11.2</text>
<text x="684" y="486.3" font-size="3.9" fill="#1a1a1a" text-anchor="middle" font-weight="bold">q11.2</text>
<text x="701" y="486.3" font-size="3.9" fill="#1a1a1a" text-anchor="middle" font-weight="bold">q13</text>
<text x="717" y="486.3" font-size="3.9" fill="#1a1a1a" text-anchor="middle" font-weight="bold">q21</text>
<text x="731" y="486.3" font-size="3.9" fill="#1a1a1a" text-anchor="middle" font-weight="bold">q22.3</text>
<text x="745" y="486.3" font-size="3.9" fill="#1a1a1a" text-anchor="middle" font-weight="bold">q23.1</text>
<text x="757" y="486.3" font-size="3.9" fill="#1a1a1a" text-anchor="middle" font-weight="bold">q23.3</text>
<text x="772" y="486.3" font-size="3.9" fill="#1a1a1a" text-anchor="middle" font-weight="bold">q24.2</text>
<text x="787" y="486.3" font-size="3.9" fill="#1a1a1a" text-anchor="middle" font-weight="bold">q24.3</text>
<text x="800" y="486.3" font-size="3.9" fill="#1a1a1a" text-anchor="middle" font-weight="bold">q25.2</text>
<text x="814" y="486.3" font-size="3.9" fill="#1a1a1a" text-anchor="middle" font-weight="bold">q26.3</text>
<line x1="186.5" y1="496.3" x2="263.7" y2="496.3" stroke="#444" stroke-width="1"/>
<line x1="314" y1="496.3" x2="390.3" y2="496.3" stroke="#444" stroke-width="1"/>
<path d="M184.5,496.3 l4,-1.6 l0,3.2 Z" fill="#222"/>
<path d="M392.3,496.3 l-4,-1.6 l0,3.2 Z" fill="#222"/>
<line x1="400.9" y1="496.0" x2="483.6" y2="496.0" stroke="#444" stroke-width="1"/>
<line x1="533.1" y1="496.0" x2="605.4" y2="496.0" stroke="#444" stroke-width="1"/>
<path d="M398.9,496.0 l4,-1.6 l0,3.2 Z" fill="#222"/>
<path d="M607.4,496.0 l-4,-1.6 l0,3.2 Z" fill="#222"/>
<line x1="615.9" y1="495.6" x2="689.5" y2="495.6" stroke="#444" stroke-width="1"/>
<line x1="739.8" y1="495.6" x2="820.4" y2="495.6" stroke="#444" stroke-width="1"/>
<path d="M613.9,495.6 l4,-1.6 l0,3.2 Z" fill="#222"/>
<path d="M822.4,495.6 l-4,-1.6 l0,3.2 Z" fill="#222"/>
<text x="269.0" y="500.3" font-size="10.0" fill="#1e1e1e" textLength="40.4" lengthAdjust="spacingAndGlyphs">4,402 bp</text>
<text x="488.6" y="500.1" font-size="10.0" fill="#1e1e1e" textLength="40.4" lengthAdjust="spacingAndGlyphs">4,402 bp</text>
<text x="694.8" y="501.1" font-size="9.6" fill="#1e1e1e" textLength="40.4" lengthAdjust="spacingAndGlyphs">4,402 bp</text>
<text x="215.4" y="507.0" font-size="7.4" fill="#262626" stroke="#262626" stroke-width="0.25" textLength="47" lengthAdjust="spacingAndGlyphs">78,103,000 bp</text>
<text x="315" y="507.0" font-size="7.4" fill="#262626" stroke="#262626" stroke-width="0.25" textLength="47.4" lengthAdjust="spacingAndGlyphs">78,105,000 bp</text>
<text x="436.2" y="506.5" font-size="7.4" fill="#262626" stroke="#262626" stroke-width="0.25" textLength="50.5" lengthAdjust="spacingAndGlyphs">172,555,000 bp</text>
<text x="533.1" y="506.5" font-size="7.4" fill="#262626" stroke="#262626" stroke-width="0.25" textLength="50.1" lengthAdjust="spacingAndGlyphs">172,557,000 bp</text>
<text x="617.8" y="506.2" font-size="7.4" fill="#262626" stroke="#262626" stroke-width="0.25" textLength="43.5" lengthAdjust="spacingAndGlyphs">6,201,000 bp</text>
<text x="761.2" y="506.2" font-size="7.4" fill="#262626" stroke="#262626" stroke-width="0.25" textLength="43.8" lengthAdjust="spacingAndGlyphs">6,204,000 bp</text>
<line x1="183" y1="513.0" x2="392.5" y2="513.0" stroke="#6a6a6a" stroke-width="2"/>
<line x1="191.3" y1="509.8" x2="191.3" y2="512.5" stroke="#444" stroke-width="0.9"/>
<line x1="214.9" y1="509.8" x2="214.9" y2="512.5" stroke="#444" stroke-width="0.9"/>
<line x1="238.4" y1="509.8" x2="238.4" y2="512.5" stroke="#444" stroke-width="0.9"/>
<line x1="262.0" y1="509.8" x2="262.0" y2="512.5" stroke="#444" stroke-width="0.9"/>
<line x1="285.5" y1="509.8" x2="285.5" y2="512.5" stroke="#444" stroke-width="0.9"/>
<line x1="309.1" y1="509.8" x2="309.1" y2="512.5" stroke="#444" stroke-width="0.9"/>
<line x1="332.6" y1="509.8" x2="332.6" y2="512.5" stroke="#444" stroke-width="0.9"/>
<line x1="356.1" y1="509.8" x2="356.1" y2="512.5" stroke="#444" stroke-width="0.9"/>
<line x1="379.7" y1="509.8" x2="379.7" y2="512.5" stroke="#444" stroke-width="0.9"/>
<line x1="398" y1="513.5" x2="607.5" y2="513.5" stroke="#b8b8b8" stroke-width="1.2"/>
<line x1="415.8" y1="510.3" x2="415.8" y2="513" stroke="#555" stroke-width="0.9"/>
<line x1="439.5" y1="510.3" x2="439.5" y2="513" stroke="#555" stroke-width="0.9"/>
<line x1="463.2" y1="510.3" x2="463.2" y2="513" stroke="#555" stroke-width="0.9"/>
<line x1="487.0" y1="510.3" x2="487.0" y2="513" stroke="#555" stroke-width="0.9"/>
<line x1="510.7" y1="510.3" x2="510.7" y2="513" stroke="#555" stroke-width="0.9"/>
<line x1="534.4" y1="510.3" x2="534.4" y2="513" stroke="#555" stroke-width="0.9"/>
<line x1="558.1" y1="510.3" x2="558.1" y2="513" stroke="#555" stroke-width="0.9"/>
<line x1="581.8" y1="510.3" x2="581.8" y2="513" stroke="#555" stroke-width="0.9"/>
<line x1="605.6" y1="510.3" x2="605.6" y2="513" stroke="#555" stroke-width="0.9"/>
<line x1="613.5" y1="513.5" x2="822.5" y2="513.5" stroke="#b8b8b8" stroke-width="1.2"/>
<line x1="637.9" y1="510.3" x2="637.9" y2="513" stroke="#555" stroke-width="0.9"/>
<line x1="661.6" y1="510.3" x2="661.6" y2="513" stroke="#555" stroke-width="0.9"/>
<line x1="685.4" y1="510.3" x2="685.4" y2="513" stroke="#555" stroke-width="0.9"/>
<line x1="709.1" y1="510.3" x2="709.1" y2="513" stroke="#555" stroke-width="0.9"/>
<line x1="732.9" y1="510.3" x2="732.9" y2="513" stroke="#555" stroke-width="0.9"/>
<line x1="756.6" y1="510.3" x2="756.6" y2="513" stroke="#555" stroke-width="0.9"/>
<line x1="780.4" y1="510.3" x2="780.4" y2="513" stroke="#555" stroke-width="0.9"/>
<line x1="804.1" y1="510.3" x2="804.1" y2="513" stroke="#555" stroke-width="0.9"/>
<line x1="305" y1="521.95" x2="392.3" y2="521.95" stroke="#5a5ac8" stroke-width="0.9"/>
<rect x="297.3" y="521.00" width="3.90" height="1.9" fill="#14149a"/>
<rect x="301" y="519.95" width="4.00" height="4.0" fill="#14149a"/>
<rect x="308.80" y="521.0" width="1.8" height="1.9" fill="#24249a"/>
<rect x="319.10" y="521.0" width="1.8" height="1.9" fill="#24249a"/>
<rect x="329.40" y="521.0" width="1.8" height="1.9" fill="#24249a"/>
<rect x="339.70" y="521.0" width="1.8" height="1.9" fill="#24249a"/>
<rect x="350.00" y="521.0" width="1.8" height="1.9" fill="#24249a"/>
<rect x="360.30" y="521.0" width="1.8" height="1.9" fill="#24249a"/>
<rect x="370.60" y="521.0" width="1.8" height="1.9" fill="#24249a"/>
<rect x="380.90" y="521.0" width="1.8" height="1.9" fill="#24249a"/>
<line x1="497" y1="521.95" x2="607.4" y2="521.95" stroke="#5a5ac8" stroke-width="0.9"/>
<rect x="480.3" y="520.55" width="16.70" height="2.8" fill="#14149a"/>
<rect x="514.5" y="520.25" width="12.80" height="3.4" fill="#14149a"/>
<rect x="517" y="519.75" width="9.50" height="4.4" fill="#14149a"/>
<rect x="500.45" y="521.0" width="1.7" height="1.9" fill="#24249a"/>
<rect x="510.45" y="521.0" width="1.7" height="1.9" fill="#24249a"/>
<rect x="531.15" y="521.0" width="1.7" height="1.9" fill="#24249a"/>
<rect x="541.85" y="521.0" width="1.7" height="1.9" fill="#24249a"/>
<rect x="556.45" y="521.0" width="1.7" height="1.9" fill="#24249a"/>
<rect x="561.85" y="521.0" width="1.7" height="1.9" fill="#24249a"/>
<rect x="565.85" y="521.0" width="1.7" height="1.9" fill="#24249a"/>
<rect x="571.85" y="521.0" width="1.7" height="1.9" fill="#24249a"/>
<rect x="576.45" y="521.0" width="1.7" height="1.9" fill="#24249a"/>
<rect x="582.45" y="521.0" width="1.7" height="1.9" fill="#24249a"/>
<rect x="587.15" y="521.0" width="1.7" height="1.9" fill="#24249a"/>
<rect x="593.15" y="521.0" width="1.7" height="1.9" fill="#24249a"/>
<rect x="597.85" y="521.0" width="1.7" height="1.9" fill="#24249a"/>
<rect x="603.15" y="521.0" width="1.7" height="1.9" fill="#24249a"/>
<path d="M549.8,520.2 l2.4,1.75 l-2.4,1.75 Z" fill="#1a1a9a"/>
<line x1="614.7" y1="521.95" x2="822.4" y2="521.95" stroke="#5a5ac8" stroke-width="0.9"/>
<rect x="729.1" y="520.65" width="19.60" height="2.6" fill="#14149a"/>
<rect x="745" y="519.65" width="3.70" height="4.6" fill="#14149a"/>
<rect x="615.30" y="521.0" width="2.8" height="1.9" fill="#24249a"/>
<rect x="625.60" y="521.0" width="2.8" height="1.9" fill="#24249a"/>
<rect x="635.90" y="521.0" width="2.8" height="1.9" fill="#24249a"/>
<rect x="646.20" y="521.0" width="2.8" height="1.9" fill="#24249a"/>
<rect x="656.50" y="521.0" width="2.8" height="1.9" fill="#24249a"/>
<rect x="666.80" y="521.0" width="2.8" height="1.9" fill="#24249a"/>
<rect x="677.10" y="521.0" width="2.8" height="1.9" fill="#24249a"/>
<rect x="687.40" y="521.0" width="2.8" height="1.9" fill="#24249a"/>
<rect x="697.70" y="521.0" width="2.8" height="1.9" fill="#24249a"/>
<rect x="708.00" y="521.0" width="2.8" height="1.9" fill="#24249a"/>
<rect x="718.30" y="521.0" width="2.8" height="1.9" fill="#24249a"/>
<rect x="750.60" y="521.0" width="2.8" height="1.9" fill="#24249a"/>
<rect x="760.90" y="521.0" width="2.8" height="1.9" fill="#24249a"/>
<rect x="771.20" y="521.0" width="2.8" height="1.9" fill="#24249a"/>
<rect x="781.50" y="521.0" width="2.8" height="1.9" fill="#24249a"/>
<rect x="791.80" y="521.0" width="2.8" height="1.9" fill="#24249a"/>
<rect x="802.10" y="521.0" width="2.8" height="1.9" fill="#24249a"/>
<rect x="812.40" y="521.0" width="2.8" height="1.9" fill="#24249a"/>
<text x="329.00" y="538.80" font-size="12" fill="#111" text-anchor="start" font-weight="normal" font-style="italic" stroke="#111" stroke-width="0.16" >PGK1</text>
<text x="527.40" y="540.30" font-size="12" fill="#111" text-anchor="start" font-weight="normal" font-style="italic" stroke="#111" stroke-width="0.16" >PDK1</text>
<text x="720.80" y="539.80" font-size="12" fill="#111" text-anchor="start" font-weight="normal" font-style="italic" stroke="#111" stroke-width="0.16" >PFKFB3</text>
<text x="191.60" y="540.20" font-size="10" fill="#222" text-anchor="middle" font-weight="normal" font-style="normal" stroke="#222" stroke-width="0.16" >10</text>
<text x="191.60" y="561.30" font-size="10" fill="#222" text-anchor="middle" font-weight="normal" font-style="normal" stroke="#222" stroke-width="0.16" >0</text>
<path d="M202.5,535.2 L200.9,535.2 L200.9,558.8" stroke="#7878c8" stroke-width="1" fill="none"/>
<text x="191.60" y="581.43" font-size="10" fill="#d03838" text-anchor="middle" font-weight="normal" font-style="normal" stroke="#d03838" stroke-width="0.16" >20</text>
<text x="191.60" y="602.53" font-size="10" fill="#d03838" text-anchor="middle" font-weight="normal" font-style="normal" stroke="#d03838" stroke-width="0.16" >0</text>
<path d="M202.5,576.4 L200.9,576.4 L200.9,600.0" stroke="#e49090" stroke-width="1" fill="none"/>
<text x="191.60" y="622.66" font-size="10" fill="#5ad65a" text-anchor="middle" font-weight="normal" font-style="normal" stroke="#5ad65a" stroke-width="0.16" >15</text>
<text x="191.60" y="643.76" font-size="10" fill="#5ad65a" text-anchor="middle" font-weight="normal" font-style="normal" stroke="#5ad65a" stroke-width="0.16" >0</text>
<path d="M202.5,617.7 L200.9,617.7 L200.9,641.3" stroke="#8ae48a" stroke-width="1" fill="none"/>
<text x="191.60" y="663.89" font-size="10" fill="#3030a0" text-anchor="middle" font-weight="normal" font-style="normal" stroke="#3030a0" stroke-width="0.16" >10</text>
<text x="191.60" y="684.99" font-size="10" fill="#3030a0" text-anchor="middle" font-weight="normal" font-style="normal" stroke="#3030a0" stroke-width="0.16" >0</text>
<path d="M202.5,658.9 L200.9,658.9 L200.9,682.5" stroke="#7070c8" stroke-width="1" fill="none"/>
<text x="191.60" y="705.12" font-size="10" fill="#222" text-anchor="middle" font-weight="normal" font-style="normal" stroke="#222" stroke-width="0.16" >10</text>
<text x="191.60" y="726.22" font-size="10" fill="#222" text-anchor="middle" font-weight="normal" font-style="normal" stroke="#222" stroke-width="0.16" >0</text>
<path d="M202.5,700.1 L200.9,700.1 L200.9,723.7" stroke="#7878c8" stroke-width="1" fill="none"/>
<text x="191.60" y="746.35" font-size="10" fill="#d03838" text-anchor="middle" font-weight="normal" font-style="normal" stroke="#d03838" stroke-width="0.16" >20</text>
<text x="191.60" y="767.45" font-size="10" fill="#d03838" text-anchor="middle" font-weight="normal" font-style="normal" stroke="#d03838" stroke-width="0.16" >0</text>
<path d="M202.5,741.4 L200.9,741.4 L200.9,764.9" stroke="#e49090" stroke-width="1" fill="none"/>
<text x="191.60" y="787.58" font-size="10" fill="#5ad65a" text-anchor="middle" font-weight="normal" font-style="normal" stroke="#5ad65a" stroke-width="0.16" >15</text>
<text x="191.60" y="808.68" font-size="10" fill="#5ad65a" text-anchor="middle" font-weight="normal" font-style="normal" stroke="#5ad65a" stroke-width="0.16" >0</text>
<path d="M202.5,782.6 L200.9,782.6 L200.9,806.2" stroke="#8ae48a" stroke-width="1" fill="none"/>
<text x="191.60" y="828.81" font-size="10" fill="#3030a0" text-anchor="middle" font-weight="normal" font-style="normal" stroke="#3030a0" stroke-width="0.16" >10</text>
<text x="191.60" y="849.91" font-size="10" fill="#3030a0" text-anchor="middle" font-weight="normal" font-style="normal" stroke="#3030a0" stroke-width="0.16" >0</text>
<path d="M202.5,823.8 L200.9,823.8 L200.9,847.4" stroke="#7070c8" stroke-width="1" fill="none"/>
<text x="406.50" y="540.20" font-size="10" fill="#222" text-anchor="middle" font-weight="normal" font-style="normal" stroke="#222" stroke-width="0.16" >10</text>
<text x="406.50" y="561.30" font-size="10" fill="#222" text-anchor="middle" font-weight="normal" font-style="normal" stroke="#222" stroke-width="0.16" >0</text>
<path d="M417.4,535.2 L415.8,535.2 L415.8,558.8" stroke="#7878c8" stroke-width="1" fill="none"/>
<text x="406.50" y="581.43" font-size="10" fill="#d03838" text-anchor="middle" font-weight="normal" font-style="normal" stroke="#d03838" stroke-width="0.16" >15</text>
<text x="406.50" y="602.53" font-size="10" fill="#d03838" text-anchor="middle" font-weight="normal" font-style="normal" stroke="#d03838" stroke-width="0.16" >0</text>
<path d="M417.4,576.4 L415.8,576.4 L415.8,600.0" stroke="#e49090" stroke-width="1" fill="none"/>
<text x="406.50" y="622.66" font-size="10" fill="#5ad65a" text-anchor="middle" font-weight="normal" font-style="normal" stroke="#5ad65a" stroke-width="0.16" >10</text>
<text x="406.50" y="643.76" font-size="10" fill="#5ad65a" text-anchor="middle" font-weight="normal" font-style="normal" stroke="#5ad65a" stroke-width="0.16" >0</text>
<path d="M417.4,617.7 L415.8,617.7 L415.8,641.3" stroke="#8ae48a" stroke-width="1" fill="none"/>
<text x="406.50" y="663.89" font-size="10" fill="#3030a0" text-anchor="middle" font-weight="normal" font-style="normal" stroke="#3030a0" stroke-width="0.16" >10</text>
<text x="406.50" y="684.99" font-size="10" fill="#3030a0" text-anchor="middle" font-weight="normal" font-style="normal" stroke="#3030a0" stroke-width="0.16" >0</text>
<path d="M417.4,658.9 L415.8,658.9 L415.8,682.5" stroke="#7070c8" stroke-width="1" fill="none"/>
<text x="406.50" y="705.12" font-size="10" fill="#222" text-anchor="middle" font-weight="normal" font-style="normal" stroke="#222" stroke-width="0.16" >10</text>
<text x="406.50" y="726.22" font-size="10" fill="#222" text-anchor="middle" font-weight="normal" font-style="normal" stroke="#222" stroke-width="0.16" >0</text>
<path d="M417.4,700.1 L415.8,700.1 L415.8,723.7" stroke="#7878c8" stroke-width="1" fill="none"/>
<text x="406.50" y="746.35" font-size="10" fill="#d03838" text-anchor="middle" font-weight="normal" font-style="normal" stroke="#d03838" stroke-width="0.16" >15</text>
<text x="406.50" y="767.45" font-size="10" fill="#d03838" text-anchor="middle" font-weight="normal" font-style="normal" stroke="#d03838" stroke-width="0.16" >0</text>
<path d="M417.4,741.4 L415.8,741.4 L415.8,764.9" stroke="#e49090" stroke-width="1" fill="none"/>
<text x="406.50" y="787.58" font-size="10" fill="#5ad65a" text-anchor="middle" font-weight="normal" font-style="normal" stroke="#5ad65a" stroke-width="0.16" >10</text>
<text x="406.50" y="808.68" font-size="10" fill="#5ad65a" text-anchor="middle" font-weight="normal" font-style="normal" stroke="#5ad65a" stroke-width="0.16" >0</text>
<path d="M417.4,782.6 L415.8,782.6 L415.8,806.2" stroke="#8ae48a" stroke-width="1" fill="none"/>
<text x="406.50" y="828.81" font-size="10" fill="#3030a0" text-anchor="middle" font-weight="normal" font-style="normal" stroke="#3030a0" stroke-width="0.16" >10</text>
<text x="406.50" y="849.91" font-size="10" fill="#3030a0" text-anchor="middle" font-weight="normal" font-style="normal" stroke="#3030a0" stroke-width="0.16" >0</text>
<path d="M417.4,823.8 L415.8,823.8 L415.8,847.4" stroke="#7070c8" stroke-width="1" fill="none"/>
<text x="622.20" y="542.50" font-size="10" fill="#222" text-anchor="middle" font-weight="normal" font-style="normal" stroke="#222" stroke-width="0.16" >10</text>
<text x="622.20" y="563.60" font-size="10" fill="#222" text-anchor="middle" font-weight="normal" font-style="normal" stroke="#222" stroke-width="0.16" >0</text>
<path d="M633.1,535.2 L631.5,535.2 L631.5,558.8" stroke="#7878c8" stroke-width="1" fill="none"/>
<text x="622.20" y="583.73" font-size="10" fill="#d03838" text-anchor="middle" font-weight="normal" font-style="normal" stroke="#d03838" stroke-width="0.16" >10</text>
<text x="622.20" y="604.83" font-size="10" fill="#d03838" text-anchor="middle" font-weight="normal" font-style="normal" stroke="#d03838" stroke-width="0.16" >0</text>
<path d="M633.1,576.4 L631.5,576.4 L631.5,600.0" stroke="#e49090" stroke-width="1" fill="none"/>
<text x="622.20" y="624.96" font-size="10" fill="#5ad65a" text-anchor="middle" font-weight="normal" font-style="normal" stroke="#5ad65a" stroke-width="0.16" >10</text>
<text x="622.20" y="646.06" font-size="10" fill="#5ad65a" text-anchor="middle" font-weight="normal" font-style="normal" stroke="#5ad65a" stroke-width="0.16" >0</text>
<path d="M633.1,617.7 L631.5,617.7 L631.5,641.3" stroke="#8ae48a" stroke-width="1" fill="none"/>
<text x="622.20" y="666.19" font-size="10" fill="#3030a0" text-anchor="middle" font-weight="normal" font-style="normal" stroke="#3030a0" stroke-width="0.16" >10</text>
<text x="622.20" y="687.29" font-size="10" fill="#3030a0" text-anchor="middle" font-weight="normal" font-style="normal" stroke="#3030a0" stroke-width="0.16" >0</text>
<path d="M633.1,658.9 L631.5,658.9 L631.5,682.5" stroke="#7070c8" stroke-width="1" fill="none"/>
<text x="622.20" y="707.42" font-size="10" fill="#222" text-anchor="middle" font-weight="normal" font-style="normal" stroke="#222" stroke-width="0.16" >10</text>
<text x="622.20" y="728.52" font-size="10" fill="#222" text-anchor="middle" font-weight="normal" font-style="normal" stroke="#222" stroke-width="0.16" >0</text>
<path d="M633.1,700.1 L631.5,700.1 L631.5,723.7" stroke="#7878c8" stroke-width="1" fill="none"/>
<text x="622.20" y="748.65" font-size="10" fill="#d03838" text-anchor="middle" font-weight="normal" font-style="normal" stroke="#d03838" stroke-width="0.16" >10</text>
<text x="622.20" y="769.75" font-size="10" fill="#d03838" text-anchor="middle" font-weight="normal" font-style="normal" stroke="#d03838" stroke-width="0.16" >0</text>
<path d="M633.1,741.4 L631.5,741.4 L631.5,764.9" stroke="#e49090" stroke-width="1" fill="none"/>
<text x="622.20" y="789.88" font-size="10" fill="#5ad65a" text-anchor="middle" font-weight="normal" font-style="normal" stroke="#5ad65a" stroke-width="0.16" >10</text>
<text x="622.20" y="810.98" font-size="10" fill="#5ad65a" text-anchor="middle" font-weight="normal" font-style="normal" stroke="#5ad65a" stroke-width="0.16" >0</text>
<path d="M633.1,782.6 L631.5,782.6 L631.5,806.2" stroke="#8ae48a" stroke-width="1" fill="none"/>
<text x="622.20" y="831.11" font-size="10" fill="#3030a0" text-anchor="middle" font-weight="normal" font-style="normal" stroke="#3030a0" stroke-width="0.16" >10</text>
<text x="622.20" y="852.21" font-size="10" fill="#3030a0" text-anchor="middle" font-weight="normal" font-style="normal" stroke="#3030a0" stroke-width="0.16" >0</text>
<path d="M633.1,823.8 L631.5,823.8 L631.5,847.4" stroke="#7070c8" stroke-width="1" fill="none"/>
<path d="M204,600.0 L204,598.9 L207.4,598.9 L207.4,600.0 Z" fill="#f20000"/>
<path d="M276.1,600.0 L276.1,600 L276.7,599.2 L277.9,593.2 L279.7,589.5 L282.1,584.7 L283.9,582.3 L286,581.8 L288.2,581.7 L289.4,583.5 L291.2,587.1 L293,588.3 L294.2,592.6 L296.1,594.4 L298.5,597.4 L300.3,598 L303.9,598.6 L306.4,597.4 L310,596.2 L311.8,595 L317.3,595 L319.1,596.8 L321.5,597.4 L322.5,597.4 L323.3,593.2 L325.8,593.8 L333,594.4 L334.8,596.2 L336.1,597.4 L337.3,596.2 L342.7,596.2 L347.6,596.8 L350,597.4 L354.8,598 L357.3,598.6 L359.7,599.6 L367,600 L367,600.0 Z" fill="#f20000"/>
<path d="M382,600.0 L382,598.9 L392.4,598.9 L392.4,600.0 Z" fill="#f20000"/>
<rect x="277" y="602.9" width="73.7" height="3.9" fill="#000"/>
<path d="M237.3,641.0 L237.3,639.2 L276.4,639.2 L276.4,641.0 Z" fill="#12ee12"/>
<path d="M276.7,641.0 L276.7,640.5 L276.9,632 L278.5,627.5 L280,626.9 L281,626 L285,626.2 L288.5,626 L289.4,630.3 L291.9,632.8 L297.9,633.7 L303,636.2 L306.4,635.4 L321.6,635.4 L324.2,630.3 L326.7,629.4 L331.8,629.4 L335.2,631.1 L338.6,636.2 L342,637.1 L347.1,638.8 L351.3,640.3 L351.3,641.0 Z" fill="#12ee12"/>
<rect x="277" y="644.7" width="62.0" height="4.4" fill="#000"/>
<path d="M203.5,682.4 L203.5,680.9 L216.5,680.9 L216.5,682.4 Z" fill="#0a0ad8"/>
<path d="M236,682.4 L236,682.2 L247,681.9 L255.5,681.2 L262.2,680.3 L269,679.1 L274.1,678.6 L276.7,677.8 L277.5,667.6 L279.2,665.1 L282.6,662.5 L286,660.8 L288.5,659.5 L289.4,664.2 L291.1,671 L294.5,674.4 L297.9,678.6 L299.6,679.5 L308.1,680.3 L311.5,681.2 L318.2,679.5 L322.5,679.1 L323.3,675.2 L328.4,675.2 L331.8,677.8 L334.4,682 L335.6,682 L336.9,677.4 L348.8,677.4 L350.5,681.2 L359,681.2 L367.5,682.2 L367.5,682.4 Z" fill="#0a0ad8"/>
<path d="M391,682.4 L391,681.2 L395,681.2 L395,682.4 Z" fill="#0a0ad8"/>
<rect x="269.4" y="685.6" width="30.0" height="3.9" fill="#000"/>
<path d="M276.4,765.3 L276.4,759.8 L278.2,759.8 L278.2,753.3 L280,753.3 L280,747.1 L282.2,747.1 L282.2,741.6 L284.7,741.6 L284.7,747.1 L293.1,747.1 L293.1,759.8 L300,759.8 L300,765.3 Z" fill="#f20000"/>
<path d="M283,806.3 L283,799.5 L284.3,799.5 L284.3,793 L289.5,793 L289.5,786.5 L291.5,786.5 L291.5,793 L296.8,793 L296.8,799.5 L297.8,799.5 L297.8,806.3 Z" fill="#12ee12"/>
<path d="M331.2,806.3 L331.2,800.3 L336.4,800.3 L336.4,793 L348.1,793 L348.1,800.3 L352.5,800.3 L352.5,806.3 Z" fill="#12ee12"/>
<path d="M204,806.3 L204,800.8 L205,800.8 L205,806.3 Z" fill="#12ee12"/>
<path d="M216.5,847.4 L216.5,845.4 L236,845.4 L236,847.4 Z" fill="#0a0ad8"/>
<path d="M276.4,847.4 L276.4,845 L280.3,845 L280.3,842.5 L284.2,842.5 L284.2,840.5 L292.1,840.5 L292.1,839.4 L298.6,839.4 L298.6,840.5 L312.9,840.5 L312.9,839.4 L315.5,839.4 L315.5,842.5 L324.6,842.5 L324.6,845.7 L331.2,845.7 L331.2,847.4 Z" fill="#0a0ad8"/>
<path d="M336.4,847.4 L336.4,844.8 L349.4,844.8 L349.4,845.8 L355.9,845.8 L355.9,847.4 Z" fill="#0a0ad8"/>
<path d="M421,600.3 L421,598.6 L431.5,598.6 L431.5,600.3 Z" fill="#f20000"/>
<path d="M439.3,600.3 L439.3,598.7 L445.8,598.7 L445.8,600.3 Z" fill="#f20000"/>
<path d="M460,600.3 L460,599.2 L470.6,599.2 L470.6,600.3 Z" fill="#f20000"/>
<path d="M475.8,600.3 L475.8,600 L480,599.2 L482,597.5 L483.5,594 L485,593 L488,592.6 L492.7,592.6 L493.5,582 L495,581.3 L501,581.5 L502,585 L503,590 L505,595 L509.7,597 L511,592 L513,590.6 L516,590 L517.5,588.5 L519.6,587.5 L520.5,590.5 L522,592 L525,594 L530,595.5 L535.7,597.5 L542.2,600 L542.2,600.3 Z" fill="#f20000"/>
<path d="M550.4,600.3 L550.4,598.5 L551.4,598.5 L551.4,600.3 Z" fill="#f20000"/>
<path d="M582.6,600.3 L582.6,600 L590,599.4 L597,598.6 L603,598.6 L607.4,599.2 L607.4,600.3 Z" fill="#f20000"/>
<rect x="484.4" y="603.1" width="48.7" height="3.6" fill="#000"/>
<path d="M483.6,641.3 L483.6,636 L487.5,636 L487.5,634.2 L493.5,634.2 L493.5,628.8 L503.2,628.8 L503.2,632 L504.5,632 L504.5,641.3 Z" fill="#12ee12"/>
<path d="M511.8,641.3 L511.8,636 L514.9,636 L514.9,634 L520.1,634 L520.1,636 L531,636 L531,641.3 Z" fill="#12ee12"/>
<path d="M544.3,641.3 L544.3,636.8 L582.6,636.8 L582.6,641.3 Z" fill="#12ee12"/>
<path d="M590,641.3 L590,636.5 L601,636.5 L601,634 L607.4,634 L607.4,641.3 Z" fill="#12ee12"/>
<path d="M421,682.5 L421,681.5 L440,681.2 L455,681.2 L458,680 L462,679.2 L466,679.5 L470,681.3 L478,682.2 L483,680.5 L487,678 L490,675.5 L492,668 L494,666.5 L500,666.5 L502,668 L503.5,673 L505,677.5 L509.5,678.5 L511,669 L513,666.5 L517,666 L519,665.5 L520.5,667 L522,671.5 L524,674 L530,676 L537,676.5 L546,677.5 L556,678.5 L563,680 L568,681.5 L572.2,682.3 L572.2,682.5 Z" fill="#0a0ad8"/>
<path d="M594.4,682.5 L594.4,682.3 L598,680 L603,679.3 L607.4,680.5 L607.4,682.5 Z" fill="#0a0ad8"/>
<rect x="484.4" y="685.6" width="63.8" height="3.9" fill="#000"/>
<path d="M533.9,765.4 L533.9,753.6 L542.8,753.6 L542.8,765.4 Z" fill="#f20000"/>
<path d="M415.8,806.6 L415.8,799.2 L436.7,799.2 L436.7,790.1 L444,790.1 L444,799.2 L457.5,799.2 L457.5,806.6 Z" fill="#12ee12"/>
<path d="M468,806.6 L468,799.2 L478.9,799.2 L478.9,806.6 Z" fill="#12ee12"/>
<path d="M538.9,806.6 L538.9,799.9 L573.5,799.9 L573.5,806.6 Z" fill="#12ee12"/>
<path d="M604.3,806.6 L604.3,800.5 L607.4,800.5 L607.4,806.6 Z" fill="#12ee12"/>
<path d="M420.3,847.9 L420.3,844.9 L436,844.9 L436,843.3 L441,843.3 L441,842 L447,842 L447,843 L458,843 L458,844.2 L466,844.2 L466,843.3 L488,843.3 L488,842 L496,842 L496,843.3 L505,843.3 L505,842.5 L509,842.5 L509,841 L512,841 L512,842.3 L520,842.3 L520,841.3 L524,841.3 L524,843 L528,843 L528,844.9 L544.1,844.9 L544.1,847.9 Z" fill="#0a0ad8"/>
<path d="M563.1,847.9 L563.1,846.2 L575,846.2 L575,845.2 L590,845.2 L590,844.6 L600,844.6 L600,843.5 L607.4,843.5 L607.4,847.9 Z" fill="#0a0ad8"/>
<path d="M634.8,600.5 L634.8,595.8 L644,595.8 L644,597.8 L651.7,597.8 L651.7,599.2 L655.6,599.2 L655.6,600.5 Z" fill="#f20000"/>
<path d="M666,600.5 L666,600.3 L672.5,594.5 L677.8,594.5 L679,596.5 L688,597 L690,596 L700,596 L700,588 L704,588 L704,584 L710,583 L714,579.6 L716,580.5 L720,581.5 L720.8,600.3 L720.8,600.5 Z" fill="#f20000"/>
<path d="M729.9,600.5 L729.9,598.4 L745.5,598.4 L745.5,597 L747.5,597 L747.5,598.4 L754.6,598.4 L754.6,600.5 Z" fill="#f20000"/>
<path d="M760.6,600.5 L760.6,600.3 L762,598.5 L775,598 L785,599 L792.4,598.5 L798,596 L803,593 L808,591.5 L812,591 L815,594 L818,596 L822.4,596.5 L822.4,600.5 Z" fill="#f20000"/>
<rect x="698.6" y="603" width="22.9" height="3.7" fill="#000"/>
<path d="M634.8,641.3 L634.8,639.6 L644,639.6 L644,636 L645.6,636 L645.6,639.6 L658.2,639.6 L658.2,641.3 Z" fill="#12ee12"/>
<path d="M681.7,641.3 L681.7,639.5 L688,636 L692.3,635 L695,634.8 L695.5,630 L696.5,634.8 L698,630.8 L703,630.8 L703,627.7 L713.6,627.7 L714,621.7 L716,621.7 L716.5,624.3 L720.8,624.3 L722,641 L722,641.3 Z" fill="#12ee12"/>
<path d="M722,641.3 L722,640 L731.4,640 L731.4,639.2 L740.3,639.2 L740.3,633 L750.7,633 L750.7,638.5 L754.6,638.5 L754.6,641.3 Z" fill="#12ee12"/>
<path d="M765.8,641.3 L765.8,639.8 L788.5,639.8 L788.5,641.3 Z" fill="#12ee12"/>
<path d="M805,641.3 L805,639.8 L822.4,639.8 L822.4,641.3 Z" fill="#12ee12"/>
<rect x="693.4" y="644.7" width="28.1" height="4.4" fill="#000"/>
<path d="M634.8,682.5 L634.8,682 L635,679.5 L638,679 L641,677.2 L645,676 L647,677.2 L652,677.5 L653.5,679.5 L655.6,682 L655.6,682.5 Z" fill="#0a0ad8"/>
<path d="M663.4,682.5 L663.4,682.3 L667,680 L672,679 L680,678.3 L685,677.8 L690,678.5 L698.6,678 L702,675 L706,672 L710,670.5 L712,669.4 L718,669.4 L720,670 L722,673.5 L725,673 L728,672 L730,673 L733,675 L736,677.5 L740,679 L745.5,679.5 L747,676.5 L752,676.5 L753,679.5 L757,680 L759,678 L765,678 L767,680 L775,681 L787,680.5 L790,678.5 L800,678 L808,677.8 L810.7,679.5 L815,681 L822.4,681.5 L822.4,682.5 Z" fill="#0a0ad8"/>
<rect x="698.6" y="685.6" width="68.3" height="3.9" fill="#000"/>
<path d="M712.2,765.4 L712.2,751 L715.6,751 L715.6,752.3 L727.3,752.3 L727.3,754.4 L735.9,754.4 L735.9,765.4 Z" fill="#f20000"/>
<path d="M664.2,807.0 L664.2,800.6 L670.5,800.6 L670.5,792 L674.6,792 L674.6,784.4 L685.1,784.4 L685.1,791.4 L690.3,791.4 L690.3,799.2 L699.1,799.2 L699.1,807.0 Z" fill="#12ee12"/>
<path d="M700.4,807.0 L700.4,799.2 L724.7,799.2 L724.7,807.0 Z" fill="#12ee12"/>
<path d="M793.2,807.0 L793.2,799.2 L803.6,799.2 L803.6,807.0 Z" fill="#12ee12"/>
<path d="M634.8,848.0 L634.8,844.9 L644.4,844.9 L644.4,848.0 Z" fill="#0a0ad8"/>
<path d="M678.5,848.0 L678.5,845.7 L687.7,845.7 L687.7,848.0 Z" fill="#0a0ad8"/>
<path d="M690,848.0 L690,845.7 L708.5,845.7 L708.5,842.3 L713,842.3 L713,838.3 L720,838.3 L720,842.3 L722.2,842.3 L722.2,848.0 Z" fill="#0a0ad8"/>
<path d="M729.9,848.0 L729.9,843 L749.4,843 L749.4,845.7 L766.4,845.7 L766.4,848.0 Z" fill="#0a0ad8"/>
<path d="M784.6,848.0 L784.6,846 L800.3,846 L800.3,848.0 Z" fill="#0a0ad8"/>
<line x1="180.9" y1="472" x2="180.9" y2="868" stroke="#2e2e2e" stroke-width="1.4"/>
<line x1="393.45" y1="472" x2="393.45" y2="868" stroke="#1a1a1a" stroke-width="1.1"/>
<line x1="180.20000000000002" y1="472.55" x2="394.0" y2="472.55" stroke="#2a2a2a" stroke-width="1.1"/>
<line x1="180.20000000000002" y1="867.25" x2="394.0" y2="867.25" stroke="#1e1e1e" stroke-width="1.5"/>
<line x1="395.8" y1="472" x2="395.8" y2="868" stroke="#454545" stroke-width="2.0"/>
<line x1="608.6" y1="472" x2="608.6" y2="868" stroke="#1a1a1a" stroke-width="1.0"/>
<line x1="394.8" y1="472.55" x2="609.1" y2="472.55" stroke="#2a2a2a" stroke-width="1.1"/>
<line x1="394.8" y1="867.25" x2="609.1" y2="867.25" stroke="#1e1e1e" stroke-width="1.5"/>
<line x1="611.4" y1="472" x2="611.4" y2="868" stroke="#2e2e2e" stroke-width="1.2"/>
<line x1="824.2" y1="472" x2="824.2" y2="868" stroke="#1a1a1a" stroke-width="1.6"/>
<line x1="610.8" y1="472.55" x2="825.0" y2="472.55" stroke="#2a2a2a" stroke-width="1.1"/>
<line x1="610.8" y1="867.25" x2="825.0" y2="867.25" stroke="#1e1e1e" stroke-width="1.5"/>
<text x="143.45" y="552.30" font-size="12.35" fill="#111" text-anchor="middle" font-weight="normal" font-style="normal" stroke="#111" stroke-width="0.16" >Normal IgG</text>
<text x="144.55" y="593.90" font-size="12.5" fill="#d42828" text-anchor="middle" font-weight="normal" font-style="normal" stroke="#d42828" stroke-width="0.16" >H3Y99sulf</text>
<text x="141.60" y="634.80" font-size="12.1" fill="#3ccc3c" text-anchor="middle" font-weight="normal" font-style="normal" stroke="#3ccc3c" stroke-width="0.16" >PRMT1</text>
<text x="142.90" y="676.00" font-size="12.25" fill="#2626a8" text-anchor="middle" font-weight="normal" font-style="normal" stroke="#2626a8" stroke-width="0.16" >H4R3me2a</text>
<text x="144.75" y="715.70" font-size="12.35" fill="#111" text-anchor="middle" font-weight="normal" font-style="normal" stroke="#111" stroke-width="0.16" >Normal IgG</text>
<text x="144.00" y="756.50" font-size="12.4" fill="#d42828" text-anchor="middle" font-weight="normal" font-style="normal" stroke="#d42828" stroke-width="0.16" >H3Y99sulf</text>
<text x="142.55" y="799.10" font-size="12.1" fill="#3ccc3c" text-anchor="middle" font-weight="normal" font-style="normal" stroke="#3ccc3c" stroke-width="0.16" >PRMT1</text>
<text x="142.55" y="840.10" font-size="12.25" fill="#2626a8" text-anchor="middle" font-weight="normal" font-style="normal" stroke="#2626a8" stroke-width="0.16" >H4R3me2a</text>
<line x1="106.4" y1="541.8" x2="106.4" y2="682.6" stroke="#111" stroke-width="1.5"/>
<line x1="106.5" y1="704.2" x2="106.5" y2="843.8" stroke="#111" stroke-width="1.5"/>
<text x="97.50" y="617.80" font-size="12.3" fill="#111" text-anchor="end" font-weight="normal" font-style="normal" stroke="#111" stroke-width="0.16" >shControl</text>
<text x="95.60" y="779.50" font-size="12.3" fill="#111" text-anchor="end" font-weight="normal" font-style="normal" stroke="#111" stroke-width="0.16" >shSULT1B1</text>
</svg>
</body></html>
